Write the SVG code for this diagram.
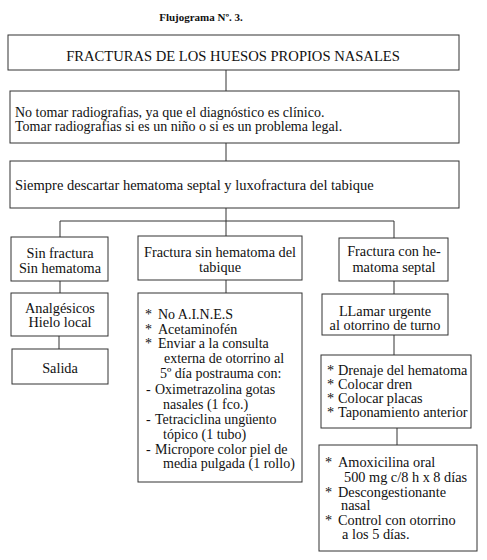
<svg xmlns="http://www.w3.org/2000/svg" width="487" height="560" viewBox="0 0 487 560">
<style>
text{font-family:"Liberation Serif","Times New Roman",serif;font-size:14.3px;fill:#111}
.c{text-anchor:middle}
.t{font-weight:bold;font-size:11px}
.h{font-size:14.6px}
.a{font-size:14px}
.b{font-size:14.5px}
rect{fill:#fff;stroke:#333;stroke-width:1}
#conn path{fill:none;stroke:#333;stroke-width:1}
</style>
<rect x="0" y="0" width="487" height="560" style="stroke:none"/>
<text class="c t" x="201" y="21">Flujograma Nº. 3.</text>
<g id="conn">
<path d="M226 70V91M226 143V161M226 208V221M60 221H394M60 221V237M226 221V236M394 221V238M60 281V293M59 336V349M226 280V293M394 281V294M394 335V355M397 428V445"/>
</g>
<g id="n1"><rect x="8" y="35" width="451" height="35"/><text class="c h" x="233" y="61">FRACTURAS DE LOS HUESOS PROPIOS NASALES</text></g>
<g id="n2"><rect x="10" y="91" width="449" height="52"/><text class="a" x="15" y="117">No tomar radiografias, ya que el diagnóstico es clínico.</text><text class="a" x="15" y="131">Tomar radiografias si es un niño o si es un problema legal.</text></g>
<g id="n3"><rect x="10" y="161" width="449" height="47"/><text class="b" x="15" y="190">Siempre descartar hematoma septal y luxofractura del tabique</text></g>
<g id="n4"><rect x="11" y="237" width="97" height="44"/><text class="c" x="60" y="258">Sin fractura</text><text class="c" x="60" y="273">Sin hematoma</text></g>
<g id="n5"><rect x="138" y="236" width="164" height="44"/><text class="c" x="220" y="257">Fractura sin hematoma del</text><text class="c" x="220" y="272">tabique</text></g>
<g id="n6"><rect x="339" y="238" width="109" height="43"/><text class="c" x="394" y="256">Fractura con he-</text><text class="c" x="394" y="272">matoma septal</text></g>
<g id="n7"><rect x="11" y="293" width="97" height="43"/><text class="c" x="60" y="313">Analgésicos</text><text class="c" x="60" y="327">Hielo local</text></g>
<g id="n8"><rect x="12" y="349" width="96" height="35"/><text class="c" x="60" y="373">Salida</text></g>
<g id="n9"><rect x="138" y="293" width="164" height="189"/>
<text class="a" x="145" y="319">*</text><text class="a" x="158" y="319">No A.I.N.E.S</text>
<text class="a" x="145" y="334">*</text><text class="a" x="158" y="334">Acetaminofén</text>
<text class="a" x="145" y="348">*</text><text class="a" x="158" y="348">Enviar a la consulta</text>
<text class="a" x="164" y="363">externa de otorrino al</text>
<text class="a" x="160" y="378">5º día postrauma con:</text>
<text class="a" x="146" y="394">-</text><text class="a" x="155" y="394">Oximetrazolina gotas</text>
<text class="a" x="163" y="409">nasales (1 fco.)</text>
<text class="a" x="146" y="424">-</text><text class="a" x="155" y="424">Tetraciclina ungüento</text>
<text class="a" x="163" y="439">tópico (1 tubo)</text>
<text class="a" x="146" y="454">-</text><text class="a" x="155" y="454">Micropore color piel de</text>
<text class="a" x="163" y="468">media pulgada (1 rollo)</text>
</g>
<g id="n10"><rect x="322" y="294" width="126" height="41"/><text class="c" x="385" y="316">LLamar urgente</text><text class="c" x="385" y="330">al otorrino de turno</text></g>
<g id="n11"><rect x="321" y="355" width="150" height="73"/>
<text x="327" y="375">*</text><text x="338" y="375">Drenaje del hematoma</text>
<text x="327" y="389">*</text><text x="338" y="389">Colocar dren</text>
<text x="327" y="403">*</text><text x="338" y="403">Colocar placas</text>
<text x="327" y="417">*</text><text x="338" y="417">Taponamiento anterior</text>
</g>
<g id="n12"><rect x="319" y="445" width="158" height="106"/>
<text x="325" y="467">*</text><text x="338" y="467">Amoxicilina oral</text>
<text x="344" y="482">500 mg c/8 h x 8 días</text>
<text x="325" y="497">*</text><text x="338" y="497">Descongestionante</text>
<text x="341" y="510">nasal</text>
<text x="325" y="525">*</text><text x="338" y="525">Control con otorrino</text>
<text x="342" y="539">a los 5 días.</text>
</g>
</svg>
